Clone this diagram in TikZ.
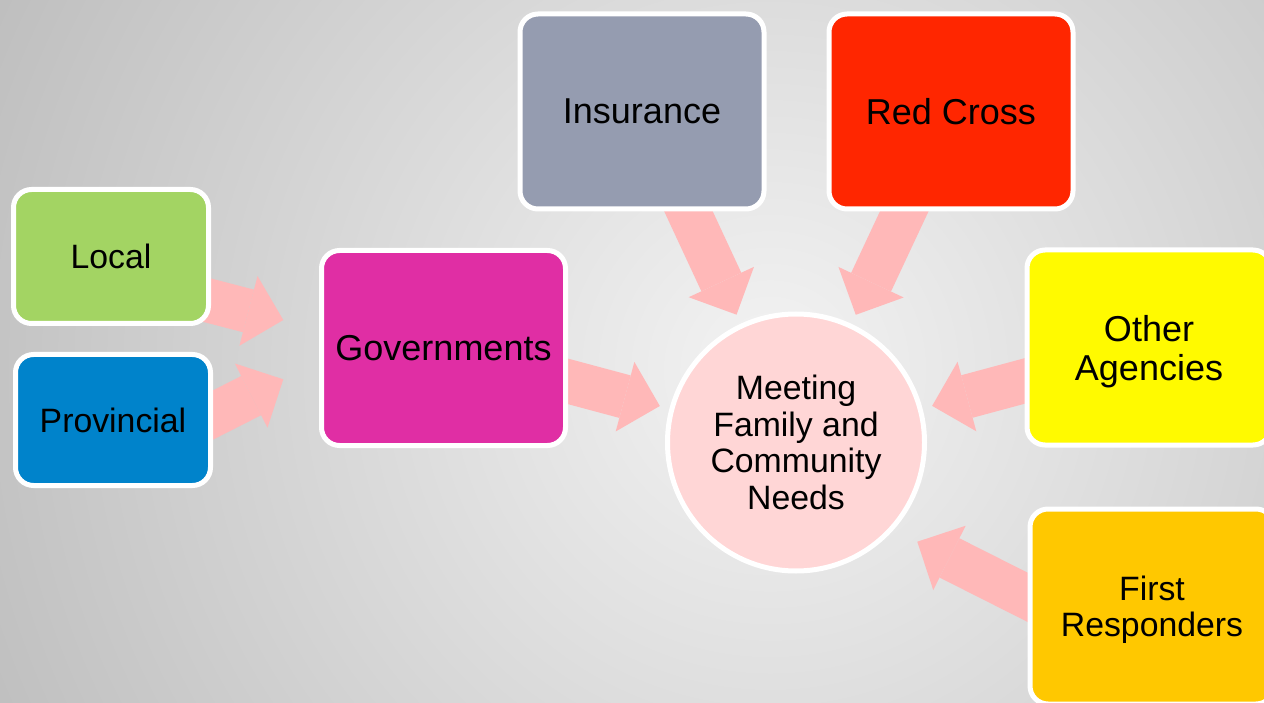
\documentclass[tikz,border=0pt]{standalone}
\usepackage{fontspec}
\setmainfont{Liberation Sans}
\usetikzlibrary{arrows.meta}
\pgfdeclarelayer{back}
\pgfdeclarelayer{arrowlayer}
\pgfsetlayers{back,arrowlayer,main}
\definecolor{bgin}{HTML}{F3F3F3}
\definecolor{bgout}{HTML}{B9B9B9}
\definecolor{arrowpink}{HTML}{FFB8B8}
\definecolor{circc}{HTML}{FFD6D6}
\definecolor{locc}{HTML}{A3D463}
\definecolor{provc}{HTML}{0083CB}
\definecolor{govc}{HTML}{E02EA4}
\definecolor{insc}{HTML}{959CB0}
\definecolor{rcc}{HTML}{FF2600}
\definecolor{oac}{HTML}{FFFA00}
\definecolor{frc}{HTML}{FFC800}
\begin{document}
\begin{tikzpicture}[x=1pt,y=-1pt,
  box/.style={draw=white, line width=5pt, rounded corners=18pt,
    minimum width=244pt, minimum height=195pt, inner sep=0pt, outer sep=0pt,
    align=center, text=black, font=\fontsize{36}{39}\selectfont},
  smallfont/.style={font=\fontsize{33.8}{36.5}\selectfont},
  smallbox/.style={box, minimum width=195pt, minimum height=134pt, smallfont},
  hub/.style={circle, draw=white, line width=5pt, fill=circc, minimum size=257pt,
    inner sep=0pt, outer sep=0pt, align=center, text=black,
    font=\fontsize{33.8}{36.7}\selectfont},
  arr/.style={draw=arrowpink, line width=44pt,
    -{Triangle[length=36pt,width=72pt,line width=0pt]}}
]
\useasboundingbox (0,0) rectangle (1264,703);
\begin{pgfonlayer}{back}
  \fill[bgout] (0,0) rectangle (1264,703);
  \begin{scope}
    \clip (0,0) rectangle (1264,703);
    \shade[inner color=bgin, outer color=bgout] (770,370) circle (950pt);
  \end{scope}
\end{pgfonlayer}

\node[box, fill=insc] (ins) at (642,111.5) {Insurance};
\node[box, fill=rcc] (rc) at (951,111.5) {Red Cross};
\node[box, fill=govc] (gov) at (443.5,348) {Governments};
\node[box, fill=oac] (oa) at (1149,347.5) {Other\\\raisebox{0pt}[\height][0pt]{Agencies}};
\node[box, fill=frc, smallfont] (fr) at (1152,606.5) {First\\\raisebox{0pt}[\height][0pt]{Responders}};
\node[smallbox, fill=locc] (loc) at (111,256.5) {Local};
\node[smallbox, fill=provc, minimum height=131pt] (prov) at (113,420) {Provincial};
\node[hub] (circ) at (796,442.5) {Meeting\\Family and\\Community\\Needs};

\coordinate (lt) at (150,285.3);
\coordinate (lh) at (283.3,320);
\coordinate (pt) at (150,447);
\coordinate (ph) at (283.3,379.3);
\coordinate (ft) at (1100,633.8);
\coordinate (fh) at (917.3,541.7);

\begin{pgfonlayer}{arrowlayer}
  \draw[arr, shorten >=12.5pt] (ins.center) -- (circ);
  \draw[arr, shorten >=12.5pt] (rc.center) -- (circ);
  \draw[arr, shorten >=12.5pt] (gov.center) -- (circ);
  \draw[arr, shorten >=12.5pt] (oa.center) -- (circ);
  \draw[arr] (ft) -- (fh);
  \draw[arr] (lt) -- (lh);
  \draw[arr] (pt) -- (ph);
\end{pgfonlayer}
\end{tikzpicture}
\end{document}
